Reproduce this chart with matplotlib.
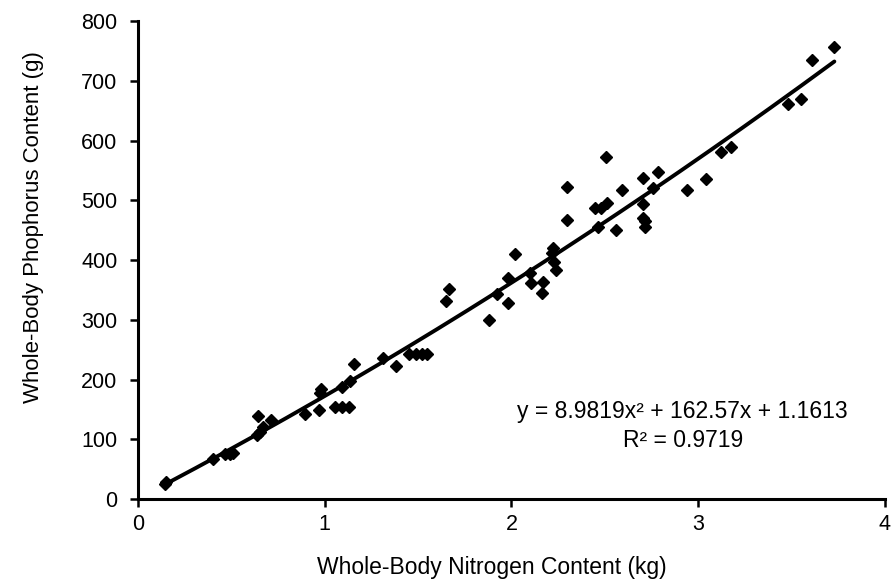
import matplotlib.pyplot as plt
import numpy as np

plt.rcParams['font.family'] = ['Liberation Sans', 'DejaVu Sans']

# whole-body nitrogen (kg) and phosphorus (g)
nitrogen = [0.145, 0.15, 0.40, 0.466, 0.49, 0.51, 0.635, 0.644, 0.653, 0.67, 0.71,
            0.894, 0.97, 0.975, 0.98, 1.055, 1.09, 1.13, 1.09, 1.135, 1.156,
            1.313, 1.38, 1.45, 1.49, 1.52, 1.55, 1.649, 1.667,
            1.88, 1.92, 1.98, 1.98, 2.02, 2.098, 2.107, 2.17, 2.166,
            2.215, 2.22, 2.24, 2.23, 2.30, 2.30,
            2.446, 2.464, 2.48, 2.505, 2.51, 2.56, 2.595,
            2.705, 2.705, 2.705, 2.714, 2.714, 2.76, 2.785,
            2.943, 3.04, 3.125, 3.178, 3.48, 3.553, 3.612, 3.73]
phosphorus = [25, 28, 68, 76, 75, 77, 107, 139, 113, 121, 132,
              143, 149, 177, 185, 154, 154, 154, 188, 198, 226,
              237, 223, 243, 243, 243, 243, 332, 351,
              300, 343, 329, 370, 411, 378, 361, 364, 345,
              412, 420, 383, 397, 468, 522,
              487, 455, 488, 573, 495, 450, 518,
              538, 494, 470, 455, 465, 520, 548,
              517, 536, 581, 589, 661, 669, 735, 756]

# Excel polynomial trendline shown on the chart
coef = [8.9819, 162.57, 1.1613]
equation = 'y = 8.9819x² + 162.57x + 1.1613'
r_squared = 'R² = 0.9719'

fig = plt.figure(figsize=(8.91, 5.88), dpi=100)
ax = fig.add_axes([0.155, 0.151, 0.838, 0.813])

ax.plot(nitrogen, phosphorus, 'D', color='black', markersize=6.3, zorder=3)

xs = np.linspace(min(nitrogen), max(nitrogen), 200)
ax.plot(xs, np.polyval(coef, xs), color='black', linewidth=2.8, solid_capstyle='round', zorder=2)

ax.set_xlim(0, 4)
ax.set_ylim(0, 800)
ax.set_xticks([0, 1, 2, 3, 4])
ax.set_yticks(range(0, 801, 100))

for side in ['top', 'right']:
    ax.spines[side].set_visible(False)
for side in ['left', 'bottom']:
    ax.spines[side].set_linewidth(2.2)
ax.tick_params(width=1.8, length=6, labelsize=15.5, color='black')
ax.tick_params(axis='x', pad=5)
ax.tick_params(axis='y', pad=9)

ax.set_xlabel('Whole-Body Nitrogen Content (kg)', fontsize=16.5)
ax.set_ylabel('Whole-Body Phophorus Content (g)', fontsize=16)
ax.xaxis.set_label_coords(0.474, -0.118)
ax.yaxis.set_label_coords(-0.126, 0.57)

ax.text(2.918, 146, equation, ha='center', va='center', fontsize=16.5)
ax.text(2.918, 99, r_squared, ha='center', va='center', fontsize=16.5)

fig.savefig('out.png', dpi=100)
